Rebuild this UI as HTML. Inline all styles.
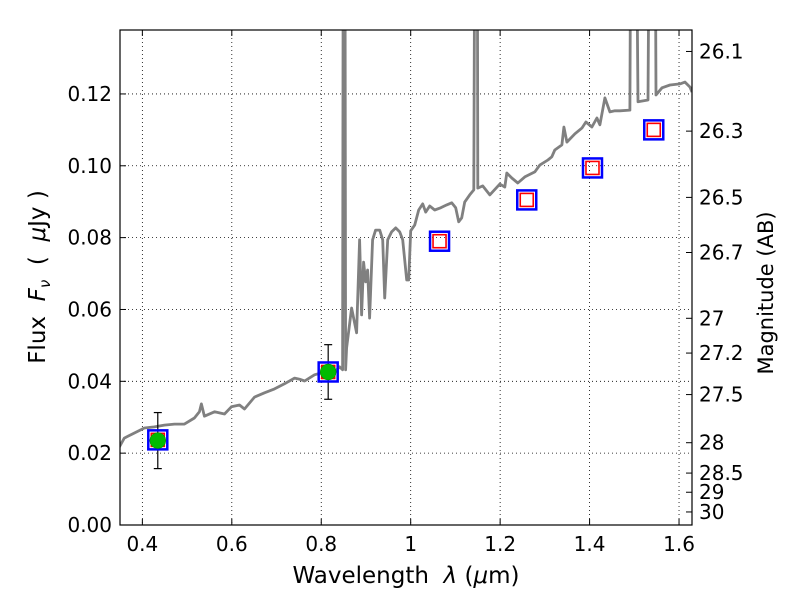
<!DOCTYPE html>
<html><head><meta charset="utf-8"><style>
body{margin:0;background:#fff;}
svg text{font-family:"DejaVu Sans","Liberation Sans",sans-serif;fill:#000;}
</style></head><body>
<svg id="chart" width="800" height="600" xmlns="http://www.w3.org/2000/svg">
<rect width="800" height="600" fill="#fff"/>
<g id="grid"></g>
<g id="plot"></g>
<g id="axes"></g>
<text x="406" y="583" font-size="23" text-anchor="middle">Wavelength&#160;&#160;<tspan font-style="italic">λ</tspan> (<tspan font-style="italic">μ</tspan>m)</text>
<text transform="translate(45,277) rotate(-90)" font-size="23" text-anchor="middle">Flux&#160;&#160;<tspan font-style="italic">F</tspan><tspan font-style="italic" font-size="15" dy="5">ν</tspan><tspan dy="-5">&#160;&#160;(&#160;&#160;</tspan><tspan font-style="italic">μ</tspan>Jy )</text>
<text transform="translate(773,293) rotate(-90)" font-size="21" text-anchor="middle">Magnitude (AB)</text>
</svg>
<script>
const specWl=[0.3485,0.3597,0.3821,0.4045,0.4269,0.4493,0.4716,0.4940,0.5164,0.5276,0.5321,0.5388,0.5612,0.5836,0.5992,0.6171,0.6283,0.6507,0.6731,0.6955,0.7179,0.7403,0.7515,0.7627,0.7850,0.8074,0.8298,0.8410,0.8477,0.85,0.8522,0.8545,0.8567,0.8679,0.8791,0.8858,0.8903,0.8948,0.8993,0.9037,0.9082,0.9149,0.9216,0.9306,0.9373,0.9418,0.9485,0.9574,0.9664,0.9754,0.9821,0.9910,0.9955,1.0,1.0089,1.0179,1.0268,1.0335,1.0425,1.0537,1.0671,1.0805,1.0917,1.1007,1.1074,1.1141,1.1208,1.1320,1.1410,1.1455,1.1477,1.15,1.1611,1.1768,1.1992,1.2104,1.2149,1.2261,1.2395,1.2552,1.2775,1.2887,1.3067,1.3156,1.3223,1.3380,1.3425,1.3492,1.3671,1.3828,1.3917,1.4052,1.4164,1.4231,1.4343,1.4455,1.4566,1.4678,1.4902,1.4947,1.4992,1.5082,1.5306,1.5373,1.5440,1.5485,1.5619,1.5798,1.6022,1.6134,1.6246,1.629];
const specFlux=[0.0217,0.0242,0.0256,0.0270,0.0273,0.0278,0.0281,0.0281,0.0298,0.0315,0.0337,0.0303,0.0315,0.0309,0.0329,0.0334,0.0323,0.0356,0.0368,0.0379,0.0393,0.0409,0.0406,0.0401,0.0418,0.0426,0.0426,0.0440,0.0432,0.25,0.25,0.0432,0.0493,0.0604,0.0535,0.0794,0.0585,0.0732,0.0677,0.0710,0.0576,0.0794,0.0821,0.0821,0.0794,0.0632,0.0794,0.0816,0.0827,0.0816,0.0794,0.0682,0.0682,0.0819,0.0835,0.0877,0.0894,0.0871,0.0888,0.0877,0.0883,0.0891,0.0897,0.0883,0.0844,0.0855,0.0899,0.0919,0.0933,0.25,0.25,0.0938,0.0944,0.0919,0.0949,0.0941,0.0980,0.0966,0.0952,0.0969,0.0983,0.1002,0.1016,0.1025,0.1044,0.1058,0.1108,0.1066,0.1089,0.1105,0.1122,0.1108,0.1133,0.1114,0.1189,0.1150,0.1153,0.1153,0.1155,0.25,0.25,0.1178,0.1183,0.25,0.25,0.1197,0.1217,0.1225,0.1228,0.1233,0.1219,0.1205];
const photWl=[0.4345,0.8155,1.0645,1.2595,1.4065,1.5435];
const photFlux=[0.0237,0.0426,0.0790,0.0905,0.0994,0.1100];
const detWl=[0.4345,0.8155];
const detFlux=[0.0235,0.0426];
const detErr=[0.0078,0.0076];
const xTicks=[0.4,0.6,0.8,1.0,1.2,1.4,1.6];
const xTickLabels=["0.4","0.6","0.8","1","1.2","1.4","1.6"];
const yTicks=[0,0.02,0.04,0.06,0.08,0.10,0.12];
const yTickLabels=["0.00","0.02","0.04","0.06","0.08","0.10","0.12"];
const magTicks=[26.1,26.3,26.5,26.7,27,27.2,27.5,28,28.5,29,30];
const magTickLabels=["26.1","26.3","26.5","26.7","27","27.2","27.5","28","28.5","29","30"];

const L=120,R=692,T=30,B=525,X0=0.35,X1=1.629,Y0=0,Y1=0.1378;
const sx=v=>L+(v-X0)/(X1-X0)*(R-L);
const sy=v=>B-(v-Y0)/(Y1-Y0)*(B-T);
const NS="http://www.w3.org/2000/svg";
function mk(tag,attrs,parent){const e=document.createElementNS(NS,tag);for(const k in attrs)e.setAttribute(k,attrs[k]);parent.appendChild(e);return e;}
const grid=document.getElementById('grid'),plot=document.getElementById('plot'),axes=document.getElementById('axes');
const svg=document.getElementById('chart');
const defs=mk('defs',{},svg);
const cp=mk('clipPath',{id:'clip'},defs);mk('rect',{x:L,y:T,width:R-L,height:B-T},cp);
plot.setAttribute('clip-path','url(#clip)');

xTicks.forEach((t,i)=>{const x=sx(t);
 const g=mk('line',{x1:x,x2:x,y1:T,y2:B,stroke:'#000','stroke-width':0.8,'stroke-dasharray':'1,3'},grid);
 
 const tk=mk('line',{x1:x,x2:x,y1:B,y2:B-6,stroke:'#000'},axes);
 
 const tk2=mk('line',{x1:x,x2:x,y1:T,y2:T+6,stroke:'#000'},axes);
 
 const tx=mk('text',{x:x,y:B+26,'font-size':20,'text-anchor':'middle'},axes);tx.textContent=xTickLabels[i];
 
});
yTicks.forEach((t,i)=>{const y=sy(t);
 const g=mk('line',{x1:L,x2:R,y1:y,y2:y,stroke:'#000','stroke-width':0.8,'stroke-dasharray':'1,3'},grid);
 
 const tk=mk('line',{x1:L,x2:L+6,y1:y,y2:y,stroke:'#000'},axes);
 
 const tx=mk('text',{x:L-8,y:y+7,'font-size':20,'text-anchor':'end'},axes);tx.textContent=yTickLabels[i];
 
});
magTicks.forEach((m,i)=>{const f=Math.pow(10,(23.9-m)/2.5);const y=sy(f);
 const tk=mk('line',{x1:R,x2:R-6,y1:y,y2:y,stroke:'#000'},axes);
 
 const tx=mk('text',{x:R+7,y:y+7,'font-size':20,'text-anchor':'start'},axes);tx.textContent=magTickLabels[i];
 
});

const pts=specWl.map((w,i)=>sx(w).toFixed(1)+','+sy(specFlux[i]).toFixed(1)).join(' ');
const sp=mk('polyline',{points:pts,fill:'none',stroke:'#808080','stroke-width':2.8,'stroke-linejoin':'round'},plot);


detWl.forEach((w,i)=>{const x=sx(w);
 const e=mk('line',{x1:x,x2:x,y1:sy(detFlux[i]-detErr[i]),y2:sy(detFlux[i]+detErr[i]),stroke:'#000','stroke-width':1.2},plot);
 
 [detFlux[i]-detErr[i],detFlux[i]+detErr[i]].forEach(v=>{const c=mk('line',{x1:x-4,x2:x+4,y1:sy(v),y2:sy(v),stroke:'#000','stroke-width':1.2},plot);
  });
});
photWl.forEach((w,i)=>{const x=sx(w),y=sy(photFlux[i]);
 const b=mk('rect',{x:x-9.5,y:y-9.5,width:19,height:19,fill:'none',stroke:'#0000ff','stroke-width':2.5},plot);
 
 const r=mk('rect',{x:x-6.5,y:y-6.5,width:13,height:13,fill:'none',stroke:'#ff0000','stroke-width':1.6},plot);
 
});
detWl.forEach((w,i)=>{const c=mk('circle',{cx:sx(w),cy:sy(detFlux[i]),r:8,fill:'#00bb00',stroke:'#008800','stroke-width':0.5},plot);
 });

const fr=mk('rect',{x:L,y:T,width:R-L,height:B-T,fill:'none',stroke:'#000','stroke-width':1.2},axes);

</script>
</body></html>
